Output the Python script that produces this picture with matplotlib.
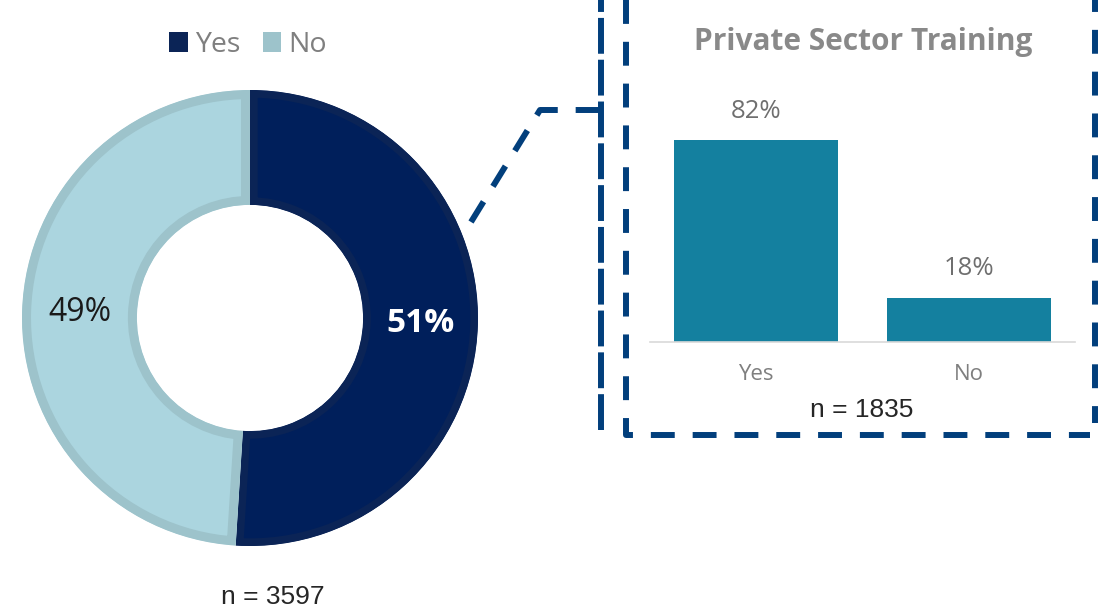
import matplotlib
matplotlib.use('Agg')
import matplotlib.pyplot as plt
from matplotlib.patches import Patch
import numpy as np

# data
donut_labels = ['Yes', 'No']
donut_values = [51, 49]
donut_n = 3597

bar_title = 'Private Sector Training'
bar_labels = ['Yes', 'No']
bar_values = [82, 18]
bar_n = 1835

# colours
yes_face, yes_edge = '#001F5B', '#0B2456'
no_face, no_edge = '#ABD5DF', '#9DC3CB'
bar_color = '#14809F'
dash_color = '#023F7C'

W, H = 1107, 612
fig = plt.figure(figsize=(W / 100, H / 100), dpi=100)
plt.rcParams['font.family'] = ['Open Sans', 'DejaVu Sans']


def frac(x, y):
    # pixel position (top-left origin) -> figure fraction
    return x / W, 1 - y / H


# ---- donut ----
cx, cy, r = 250, 318, 228
ax_pie = fig.add_axes([(cx - r) / W, (H - cy - r) / H, 2 * r / W, 2 * r / H])
ring = 0.504
wedges, _ = ax_pie.pie(donut_values, startangle=90, counterclock=False, radius=1,
                       colors=[yes_face, no_face],
                       wedgeprops=dict(width=ring))
# border drawn only on the inside of each segment
for w, ec, lw in zip(wedges, [yes_edge, no_edge], [11, 13]):
    w.set_edgecolor(ec)
    w.set_linewidth(lw)
    w.set_clip_on(True)
    w.set_clip_path(w)
ax_pie.set_xlim(-1, 1)
ax_pie.set_ylim(-1, 1)
ax_pie.set_aspect('equal')
ax_pie.axis('off')

# percentage labels at mid ring
start = 90.0
mid_r = 1 - ring / 2
for i, v in enumerate(donut_values):
    span = 360.0 * v / sum(donut_values)
    ang = np.deg2rad(start - span / 2)
    start -= span
    if i == 0:
        ax_pie.text(mid_r * np.cos(ang), mid_r * np.sin(ang), f'{v}%', color='white',
                    fontsize=24, fontweight='bold', ha='center', va='center')
    else:
        ax_pie.text(mid_r * np.cos(ang), mid_r * np.sin(ang), f'{v}%', color='#1A1A1A',
                    fontsize=23, ha='center', va='center')

handles = [Patch(facecolor=yes_edge, edgecolor='none'), Patch(facecolor=no_edge, edgecolor='none')]
fig.legend(handles, donut_labels, loc='center', bbox_to_anchor=frac(248, 45), ncol=2,
           frameon=False, fontsize=20.5, handlelength=0.65, handleheight=0.65,
           handletextpad=0.25, columnspacing=0.8, labelcolor='#7F7F7F')

fig.text(*frac(273, 597), f'n = {donut_n}', ha='center', va='center',
         fontsize=19, color='#262626', family='Liberation Sans')

# ---- bar chart ----
ax_bar = fig.add_axes([650 / W, (H - 342) / H, 425 / W, 246 / H])
x = np.arange(len(bar_labels))
bars = ax_bar.bar(x, bar_values, width=0.77, color=bar_color)
for xi, v in zip(x, bar_values):
    ax_bar.annotate(f'{v}%', (xi, v), xytext=(0, 16), textcoords='offset points',
                    ha='center', va='baseline', fontsize=18.5, color='#6F6F6F')
ax_bar.set_xlim(-0.5, 1.5)
ax_bar.set_ylim(0, 100)
ax_bar.set_xticks(x)
ax_bar.set_xticklabels(bar_labels, fontsize=16, color='#7F7F7F')
ax_bar.tick_params(axis='x', length=0, pad=15.5)
ax_bar.set_yticks([])
for s in ['top', 'left', 'right']:
    ax_bar.spines[s].set_visible(False)
ax_bar.spines['bottom'].set_color('#D9D9D9')
ax_bar.spines['bottom'].set_linewidth(1.2)

fig.text(*frac(863, 42), bar_title, ha='center', va='center', fontsize=21.5,
         fontweight='bold', color='#898989')
fig.text(*frac(862, 410), f'n = {bar_n}', ha='center', va='center',
         fontsize=19, color='#262626', family='Liberation Sans')

# ---- dashed callout frame ----
ov = fig.add_axes([0, 0, 1, 1], facecolor='none')
ov.set_xlim(0, W)
ov.set_ylim(H, 0)
ov.axis('off')
lw = 4.3
ov.plot([601, 601], [0, 432], color=dash_color, lw=lw, linestyle=(4, (6, 1)))
ov.plot([626, 626, 1090], [0, 435, 435], color=dash_color, lw=lw,
        linestyle=(0, (4, 3)))
ov.plot([1095, 1095], [0, 423], color=dash_color, lw=lw, linestyle=(2, (4, 3)))
ov.plot([471, 540, 601], [222, 110, 110], color=dash_color, lw=lw,
        linestyle=(0, (4, 3)))

fig.savefig('out.png', dpi=100)
